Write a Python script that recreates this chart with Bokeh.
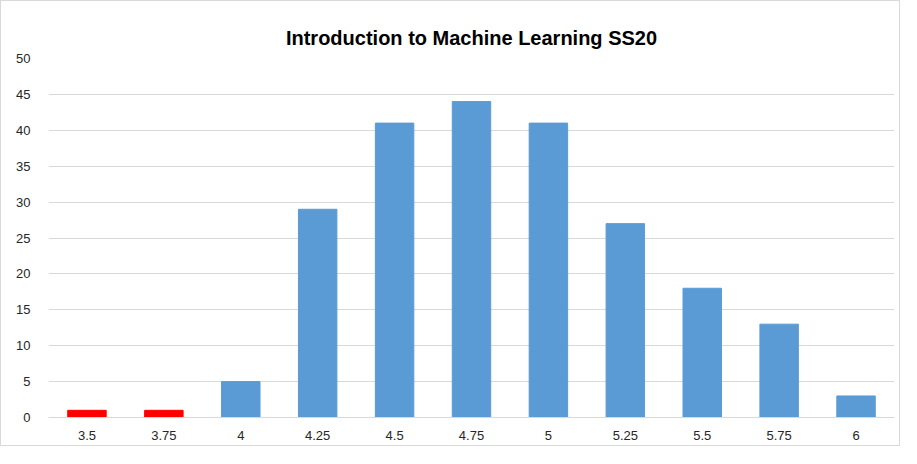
from bokeh.plotting import figure
from bokeh.models import ColumnDataSource, FixedTicker, Range1d
from bokeh.embed import file_html
from bokeh.resources import INLINE

grades = ["3.5", "3.75", "4", "4.25", "4.5", "4.75", "5", "5.25", "5.5", "5.75", "6"]
counts = [1, 1, 5, 29, 41, 44, 41, 27, 18, 13, 3]
colors = ["#FF0000", "#FF0000"] + ["#5B9BD5"] * 9
y_ticks = [0, 5, 10, 15, 20, 25, 30, 35, 40, 45, 50]

src = ColumnDataSource(dict(grade=grades, count=counts, color=colors))

p = figure(x_range=grades, y_range=Range1d(0, 50), width=900, height=446,
           output_backend="svg", toolbar_location=None,
           title="Introduction to Machine Learning SS20")
p.styles = {"border": "1px solid #d9d9d9"}
p.vbar(x="grade", top="count", width=0.5, color="color", source=src)

p.title.align = "center"
p.title.text_font = "Liberation Sans"
p.title.text_font_size = "20px"
p.title.text_font_style = "bold"
p.title.text_color = "#000000"
p.title.offset = 0
p.title.standoff = 20

p.min_border_left = 47
p.min_border_right = 7
p.min_border_top = 57
p.min_border_bottom = 30

p.outline_line_color = None
p.xgrid.grid_line_color = None
p.ygrid.grid_line_color = "#d9d9d9"
p.ygrid.grid_line_width = 1
p.yaxis.ticker = FixedTicker(ticks=y_ticks)

for ax in (p.xaxis[0], p.yaxis[0]):
    ax.major_tick_line_color = None
    ax.minor_tick_line_color = None
    ax.major_label_text_font = "Liberation Sans"
    ax.major_label_text_font_size = "13px"
    ax.major_label_text_color = "#262626"
p.yaxis.axis_line_color = None
p.yaxis.major_label_standoff = 12
p.xaxis.axis_line_color = "#d9d9d9"
p.xaxis.major_label_standoff = 7

open("out.html", "w").write(file_html(p, INLINE))
